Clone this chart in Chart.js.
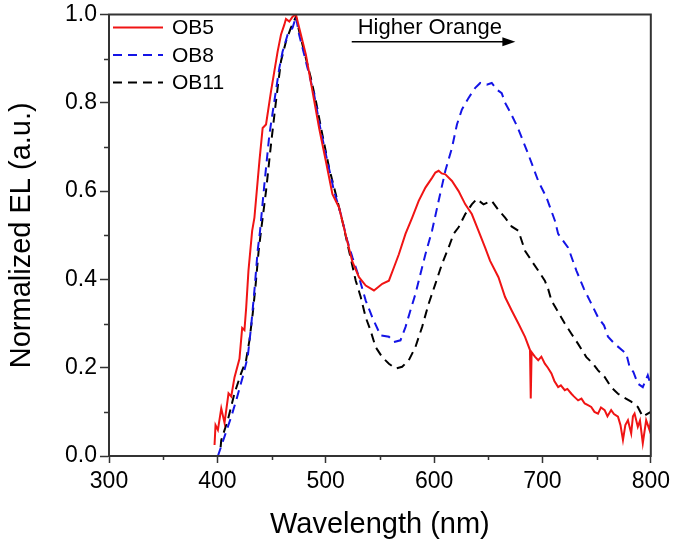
<!DOCTYPE html>
<html>
<head>
<meta charset="utf-8">
<script src="https://cdn.jsdelivr.net/npm/chart.js@4.4.1/dist/chart.umd.min.js"></script>
<style>
  html, body { margin: 0; padding: 0; background: #fff; }
  #wrap { width: 675px; height: 544px; }
</style>
</head>
<body>
<div id="wrap"><canvas id="elChart" width="675" height="544"></canvas></div>
<script>
// OB5 (red, solid)
var ob5Wavelength = [397.4, 398.3, 400.5, 403.6, 406.6, 410.3, 412.8, 415.8, 420.4, 422.9, 425, 426.6, 428.7, 432.1, 434.2, 438.8, 441.8, 444.9, 449.5, 455.6, 458.7, 461.8, 463.3, 466.4, 469.4, 472.5, 475.5, 481.7, 487.8, 493.9, 500.1, 506.2, 512.3, 518.5, 524.6, 530.7, 536.9, 544.5, 552.2, 558.3, 562.9, 567.5, 573.6, 579.8, 585.8, 592, 598.1, 601.2, 604.2, 607, 610.4, 616.5, 622.6, 628.8, 634.8, 641, 647.1, 651.7, 659.4, 665.5, 671.5, 677.8, 683.9, 688.5, 689.2, 690, 693, 696.1, 699, 702.2, 705, 708.3, 711, 714.5, 717, 720.6, 723, 726.7, 729, 732.9, 736, 739, 742, 745, 748, 751.3, 754, 757.4, 760, 763.4, 766, 769.7, 772, 774.3, 776.5, 778.9, 781.9, 783.5, 785, 788, 790, 792.6, 795.7, 798.8, 800];
var ob5Intensity  = [0.025, 0.07, 0.059, 0.108, 0.075, 0.142, 0.135, 0.178, 0.22, 0.29, 0.285, 0.336, 0.42, 0.51, 0.54, 0.668, 0.743, 0.751, 0.826, 0.916, 0.954, 0.977, 0.99, 0.984, 0.995, 1.0, 0.97, 0.909, 0.826, 0.743, 0.668, 0.593, 0.563, 0.5, 0.44, 0.405, 0.386, 0.375, 0.39, 0.397, 0.427, 0.457, 0.503, 0.54, 0.578, 0.608, 0.63, 0.642, 0.646, 0.64, 0.638, 0.623, 0.6, 0.57, 0.548, 0.51, 0.472, 0.442, 0.405, 0.36, 0.33, 0.3, 0.27, 0.24, 0.13, 0.235, 0.225, 0.217, 0.225, 0.209, 0.2, 0.187, 0.17, 0.156, 0.16, 0.149, 0.152, 0.141, 0.135, 0.126, 0.13, 0.119, 0.115, 0.111, 0.1, 0.096, 0.11, 0.104, 0.09, 0.104, 0.095, 0.089, 0.07, 0.036, 0.07, 0.081, 0.051, 0.09, 0.096, 0.066, 0.08, 0.029, 0.081, 0.059, 0.08];

// OB8 (blue, dashed)
var ob8Wavelength = [400.5, 406.6, 412.8, 417.4, 423.4, 428, 431.1, 434.2, 437.2, 439.4, 443.4, 448, 452.6, 457.2, 460.2, 464.8, 469.4, 472.5, 475.5, 478.6, 483.2, 489.3, 495.5, 501.5, 507.7, 513.9, 519.9, 524.6, 530.7, 536.9, 543, 550.6, 558.3, 562.9, 569, 573.6, 578.2, 582.8, 587.4, 592, 598.1, 604.2, 610.4, 616.5, 621.1, 625.7, 631.8, 638, 642.6, 648.6, 653.2, 657.8, 662.4, 665.5, 670, 677, 687, 696.1, 703.8, 711.5, 714.5, 723.7, 731.3, 738.4, 743.7, 751.3, 756.8, 760.5, 766.6, 777.3, 780.4, 784, 788, 792.6, 797.2, 800];
var ob8Intensity  = [0.0, 0.044, 0.089, 0.126, 0.179, 0.224, 0.292, 0.375, 0.465, 0.51, 0.616, 0.728, 0.804, 0.879, 0.916, 0.954, 0.97, 0.995, 0.954, 0.924, 0.879, 0.819, 0.736, 0.668, 0.6, 0.548, 0.488, 0.45, 0.405, 0.352, 0.314, 0.273, 0.27, 0.258, 0.262, 0.292, 0.33, 0.367, 0.412, 0.457, 0.51, 0.578, 0.646, 0.698, 0.751, 0.785, 0.811, 0.834, 0.845, 0.841, 0.845, 0.83, 0.822, 0.8, 0.78, 0.745, 0.683, 0.623, 0.585, 0.533, 0.503, 0.472, 0.42, 0.378, 0.352, 0.314, 0.296, 0.27, 0.254, 0.232, 0.202, 0.19, 0.164, 0.156, 0.183, 0.16];

// OB11 (black, dashed)
var ob11Wavelength = [403, 403.6, 409.6, 415.8, 421.9, 426.5, 429.6, 432.6, 435.1, 438.1, 440.3, 444.9, 449.5, 454.1, 458.7, 463.3, 467.9, 472.5, 475.5, 480.1, 486.3, 490.9, 496.9, 503.1, 509.3, 515.3, 521.5, 527.7, 532.3, 536.9, 541.4, 546, 552.1, 558.3, 564.4, 570.5, 576.7, 582.8, 588.9, 595, 601.2, 607.3, 613.4, 618, 622.6, 628.8, 634.8, 639.4, 645.6, 653.2, 659.4, 665.5, 671.5, 677.8, 683.9, 690, 696.1, 702.2, 705.3, 708.3, 714.5, 720.6, 726.7, 732.9, 740.5, 746.7, 751.3, 757.4, 763.4, 769.7, 774.3, 781.9, 788, 792.6, 797.2, 800];
var ob11Intensity  = [0.02, 0.036, 0.081, 0.142, 0.187, 0.217, 0.262, 0.322, 0.382, 0.465, 0.51, 0.6, 0.706, 0.804, 0.894, 0.939, 0.97, 0.995, 0.962, 0.916, 0.856, 0.804, 0.728, 0.653, 0.593, 0.533, 0.465, 0.397, 0.36, 0.314, 0.284, 0.247, 0.224, 0.209, 0.198, 0.202, 0.217, 0.247, 0.292, 0.345, 0.39, 0.435, 0.472, 0.503, 0.518, 0.548, 0.57, 0.582, 0.57, 0.578, 0.557, 0.54, 0.52, 0.51, 0.465, 0.442, 0.42, 0.397, 0.378, 0.352, 0.326, 0.3, 0.277, 0.254, 0.224, 0.209, 0.194, 0.179, 0.156, 0.141, 0.134, 0.123, 0.111, 0.089, 0.096, 0.1];

var seriesNames = ["OB5", "OB8", "OB11"];
var xTicksMajor = [300, 400, 500, 600, 700, 800];
var yTicksMajor = [0.0, 0.2, 0.4, 0.6, 0.8, 1.0];
var annotationText = "Higher Orange";

var FONT = "'Liberation Sans', Arial, Helvetica, sans-serif";

function toPoints(xs, ys) {
    var pts = [];
    for (var i = 0; i < xs.length; i++) {
        pts.push({x: xs[i], y: ys[i]});
    }
    return pts;
}

// minor ticks, frame, legend and the arrow note
var extrasPlugin = {
    id: 'extras',
    afterDatasetsDraw: function(chart) {
        var ctx = chart.ctx;
        var area = chart.chartArea;
        var xs = chart.scales.x, ys = chart.scales.y;
        ctx.save();

        // frame
        ctx.strokeStyle = '#333';
        ctx.lineWidth = 2;
        ctx.strokeRect(area.left, area.top, area.right - area.left, area.bottom - area.top);

        // minor ticks
        ctx.lineWidth = 1.5;
        ctx.beginPath();
        for (var v = xs.min + 50; v < xs.max; v += 100) {
            var px = Math.round(xs.getPixelForValue(v)) + 0.5;
            ctx.moveTo(px, area.bottom);
            ctx.lineTo(px, area.bottom + 4);
        }
        for (var w = 0.1; w < 1; w += 0.2) {
            var py = Math.round(ys.getPixelForValue(w)) + 0.5;
            ctx.moveTo(area.left, py);
            ctx.lineTo(area.left - 5, py);
        }
        ctx.stroke();

        // legend
        ctx.font = '21px ' + FONT;
        ctx.textBaseline = 'middle';
        ctx.textAlign = 'left';
        chart.data.datasets.forEach(function(ds, i) {
            var y = area.top + 13 + i * 27.5;
            ctx.strokeStyle = ds.borderColor;
            ctx.lineWidth = ds.borderWidth;
            ctx.setLineDash(ds.borderDash || []);
            ctx.beginPath();
            ctx.moveTo(area.left + 4, y);
            ctx.lineTo(area.left + 54, y);
            ctx.stroke();
            ctx.setLineDash([]);
            ctx.fillStyle = '#000';
            ctx.fillText(ds.label, area.left + 63, y + 1);
        });

        // "Higher Orange" arrow
        var ax0 = xs.getPixelForValue(524), ax1 = xs.getPixelForValue(675);
        var ay = ys.getPixelForValue(0.938);
        ctx.strokeStyle = '#000';
        ctx.fillStyle = '#000';
        ctx.lineWidth = 1.5;
        ctx.beginPath();
        ctx.moveTo(ax0, ay);
        ctx.lineTo(ax1 - 10, ay);
        ctx.stroke();
        ctx.beginPath();
        ctx.moveTo(ax1, ay);
        ctx.lineTo(ax1 - 13, ay - 4.5);
        ctx.lineTo(ax1 - 13, ay + 4.5);
        ctx.closePath();
        ctx.fill();
        ctx.font = '22px ' + FONT;
        ctx.fillText(annotationText, xs.getPixelForValue(529.5), ys.getPixelForValue(0.97));

        ctx.restore();
    }
};

var ctx = document.getElementById('elChart');

var myChart = new Chart(ctx, {
    type: 'line',
    data: {
        datasets: [{
            label: seriesNames[0],
            data: toPoints(ob5Wavelength, ob5Intensity),
            borderColor: '#f01414',
            borderWidth: 2,
            pointRadius: 0,
            tension: 0
        }, {
            label: seriesNames[1],
            data: toPoints(ob8Wavelength, ob8Intensity),
            borderColor: '#1414e6',
            borderWidth: 2,
            borderDash: [9, 6],
            pointRadius: 0,
            tension: 0
        }, {
            label: seriesNames[2],
            data: toPoints(ob11Wavelength, ob11Intensity),
            borderColor: '#000000',
            borderWidth: 2,
            borderDash: [9, 6],
            pointRadius: 0,
            tension: 0
        }]
    },
    options: {
        responsive: false,
        animation: false,
        layout: { padding: { top: 13, right: 22, left: 0, bottom: 0 } },
        plugins: {
            legend: { display: false },
            tooltip: { enabled: false }
        },
        scales: {
            x: {
                type: 'linear',
                min: 300,
                max: 800,
                afterFit: function(scale) { scale.height = 88; },
                afterBuildTicks: function(scale) {
                    scale.ticks = xTicksMajor.map(function(v) { return {value: v}; });
                },
                ticks: {
                    color: '#000',
                    padding: 5,
                    maxRotation: 0,
                    font: { family: FONT, size: 23 }
                },
                grid: { drawOnChartArea: false, tickLength: 7, tickColor: '#333', tickWidth: 1.5 },
                border: { display: true, color: '#333', width: 2 },
                title: {
                    display: true,
                    text: 'Wavelength (nm)',
                    color: '#000',
                    font: { family: FONT, size: 29 },
                    padding: { top: 0, bottom: 2 }
                }
            },
            y: {
                min: 0,
                max: 1,
                afterFit: function(scale) { scale.width = 109; },
                afterBuildTicks: function(scale) {
                    scale.ticks = yTicksMajor.map(function(v) { return {value: v}; });
                },
                ticks: {
                    color: '#000',
                    padding: 3,
                    font: { family: FONT, size: 23, lineHeight: 1 },
                    callback: function(value) { return value.toFixed(1); }
                },
                grid: { drawOnChartArea: false, tickLength: 9, tickColor: '#333', tickWidth: 1.5 },
                border: { display: true, color: '#333', width: 2 },
                title: {
                    display: true,
                    text: 'Normalized EL (a.u.)',
                    color: '#000',
                    font: { family: FONT, size: 29 },
                    padding: { top: 5, bottom: 0 }
                }
            }
        }
    },
    plugins: [extrasPlugin]
});
</script>
</body>
</html>
